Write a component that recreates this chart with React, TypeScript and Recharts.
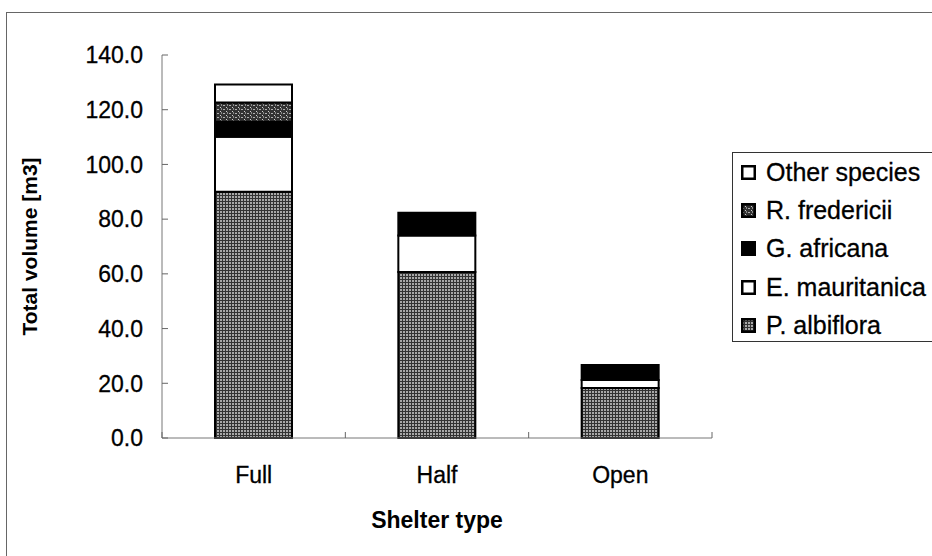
import { BarChart, Bar, XAxis, YAxis, Legend } from 'recharts'

const shelters = ['Full', 'Half', 'Open']
const albiflora = [90.0, 60.7, 18.3]
const mauritanica = [20.1, 13.3, 2.9]
const africana = [5.5, 8.3, 5.5]
const fredericii = [7.0, 0, 0]
const otherSpecies = [6.6, 0, 0]
const yTicks = [0, 20, 40, 60, 80, 100, 120, 140]

const data = shelters.map((s, i) => ({
  shelter: s,
  albiflora: albiflora[i],
  mauritanica: mauritanica[i],
  africana: africana[i],
  fredericii: fredericii[i],
  other: otherSpecies[i],
}))

const series = [
  { key: 'albiflora', name: 'P. albiflora', fill: 'url(#pAlb)' },
  { key: 'mauritanica', name: 'E. mauritanica', fill: '#ffffff' },
  { key: 'africana', name: 'G. africana', fill: '#000000' },
  { key: 'fredericii', name: 'R. fredericii', fill: 'url(#pFred)' },
  { key: 'other', name: 'Other species', fill: '#ffffff' },
]

const font = '"Liberation Sans", Arial, sans-serif'

function XTick(props: any) {
  const { x, y, payload, index, visibleTicksCount } = props
  const off = payload?.offset ?? 0
  return (
    <g>
      <line x1={x - off} x2={x - off} y1={y} y2={y - 6} stroke="#666" />
      {index === visibleTicksCount - 1 && (
        <line x1={x + off} x2={x + off} y1={y} y2={y - 6} stroke="#666" />
      )}
      <text x={x} y={y + 45} textAnchor="middle" fontSize={23} fontFamily={font} fill="#000" stroke="#000" strokeWidth={0.3}>
        {payload.value}
      </text>
    </g>
  )
}

function YTick(props: any) {
  const { x, y, payload } = props
  return (
    <g>
      <line x1={x} x2={x + 6} y1={y} y2={y} stroke="#666" />
      <text x={x - 19} y={y} dy="0.36em" textAnchor="end" fontSize={23} fontFamily={font} fill="#000" stroke="#000" strokeWidth={0.3}>
        {payload.value.toFixed(1)}
      </text>
    </g>
  )
}

function LegendBox() {
  const items = [...series].reverse()
  return (
    <div
      style={{
        border: '1.5px solid #333',
        background: '#fff',
        width: 230,
        height: 190,
        boxSizing: 'border-box',
        paddingTop: 0,
        fontFamily: font,
        fontSize: 25,
        color: '#000',
        WebkitTextStroke: '0.3px #000',
      }}
    >
      {items.map((s) => (
        <div key={s.key} style={{ display: 'flex', alignItems: 'center', height: 38.3 }}>
          <svg width={15} height={15} style={{ marginLeft: 8, marginRight: 10 }}>
            <rect x={1.25} y={1.25} width={12.5} height={12.5} fill={s.fill} stroke="#000" strokeWidth={2.5} />
          </svg>
          <span>{s.name}</span>
        </div>
      ))}
    </div>
  )
}

export default function App() {
  return (
    <div style={{ position: 'relative', width: 932, height: 556, overflow: 'hidden', background: '#fff' }}>
      <style>{`body{margin:0}`}</style>
      <div
        style={{
          position: 'absolute',
          left: 6,
          top: 12,
          width: 1000,
          height: 700,
          border: '1px solid #666',
        }}
      />
      <div style={{ position: 'absolute', left: 0, top: 0 }}>
        <BarChart width={932} height={556} data={data} margin={{ top: 55, right: 220, left: 0, bottom: 0 }}>
          <defs>
            <pattern id="pAlb" width={3} height={3} patternUnits="userSpaceOnUse">
              <rect width={3} height={3} fill="#a8a8a8" />
              <rect width={3} height={1} fill="#333" />
              <rect width={1} height={3} fill="#333" />
            </pattern>
            <pattern id="pFred" width={6} height={4} patternUnits="userSpaceOnUse">
              <rect width={6} height={4} fill="#333" />
              <rect x={1} y={1} width={2} height={1} fill="#b0b0b0" />
              <rect x={4} y={3} width={1} height={1} fill="#d0d0d0" />
              <rect x={5} y={0} width={1} height={2} fill="#8a8a8a" />
            </pattern>
          </defs>
          <XAxis
            dataKey="shelter"
            height={118}
            tickLine={false}
            tickSize={0}
            tickMargin={0}
            stroke="#777"
            tick={<XTick />}
            label={{
              value: 'Shelter type',
              position: 'insideBottom',
              offset: 28,
              fontSize: 23,
              fontWeight: 'bold',
              fontFamily: font,
              fill: '#000',
            }}
          />
          <YAxis
            width={162}
            domain={[0, 140]}
            ticks={yTicks}
            interval={0}
            tickLine={false}
            tickSize={0}
            tickMargin={0}
            stroke="#777"
            tick={<YTick />}
            label={{
              value: 'Total volume [m3]',
              angle: -90,
              position: 'center',
              dx: -51,
              fontSize: 21,
              fontWeight: 'bold',
              fontFamily: font,
              fill: '#000',
            }}
          />
          <Legend
            layout="horizontal"
            align="center"
            verticalAlign="middle"
            content={() => <LegendBox />}
            wrapperStyle={{ left: 732, top: 152, width: 230, height: 190 }}
          />
          {series.map((s) => (
            <Bar
              key={s.key}
              dataKey={s.key}
              name={s.name}
              stackId="a"
              fill={s.fill}
              stroke="#000"
              strokeWidth={2}
              barSize={77}
              isAnimationActive={false}
            />
          ))}
        </BarChart>
      </div>
    </div>
  )
}
